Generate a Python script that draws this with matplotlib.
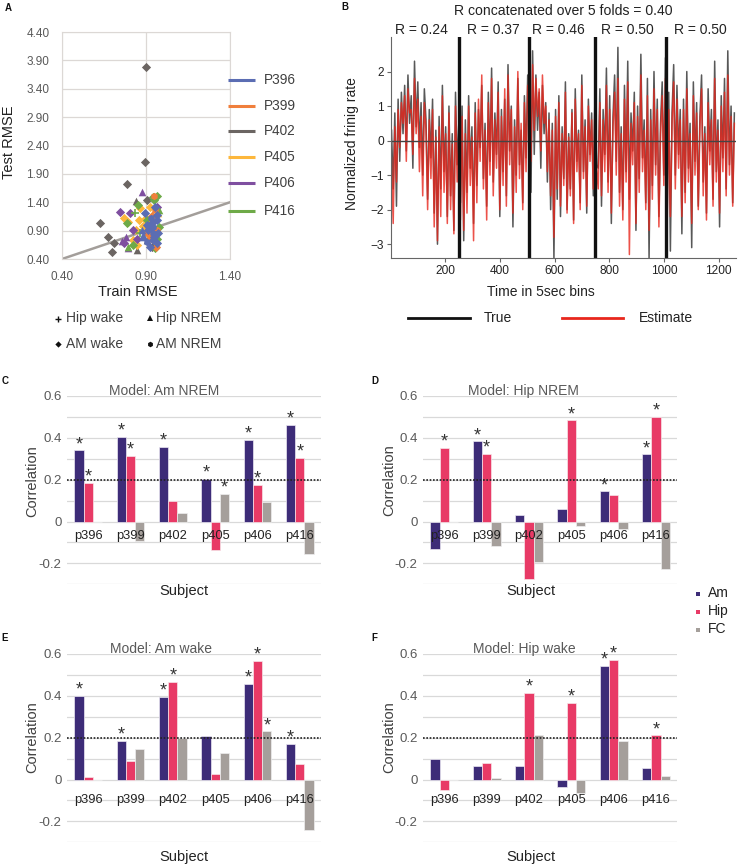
import numpy as np
import matplotlib
matplotlib.use("Agg")
import matplotlib.pyplot as plt

plt.rcParams['font.family'] = ['Liberation Sans', 'DejaVu Sans']

# ---------------- data ----------------
# Panel A: train/test RMSE per subject; cond codes: '+' Hip wake, '^' Hip NREM, 'D' AM wake, 'h' AM NREM
P396_TRAIN = [0.894, 0.914, 0.944, 0.963, 0.884, 0.924, 0.954, 0.904, 0.963, 0.934, 0.944, 0.874, 0.973, 0.904, 0.930, 0.950, 0.880, 0.965, 0.920, 0.940]
P396_TEST = [1.21, 0.91, 0.85, 1.09, 0.79, 0.62, 1.32, 0.70, 0.68, 1.03, 0.97, 0.91, 0.85, 1.00, 1.12, 0.78, 0.82, 1.18, 0.95, 0.74]
P396_COND = "DDhD^DDhDDh^DDhD^DhD"
P399_TRAIN = [0.948, 0.954, 0.934, 0.914, 0.963, 0.924, 0.944, 0.934, 0.904, 0.960]
P399_TEST = [1.51, 1.26, 1.06, 0.97, 0.91, 0.79, 0.74, 1.15, 0.85, 0.62]
P399_COND = "hhhhhhhDhD"
P402_TRAIN = [0.898, 0.892, 0.787, 0.626, 0.676, 0.711, 0.696, 0.844, 0.840, 0.906, 0.934, 0.904, 0.914]
P402_TEST = [3.78, 2.11, 1.72, 1.03, 0.78, 0.69, 0.53, 0.55, 1.42, 1.44, 0.62, 0.74, 0.85]
P402_COND = "DDDDDDD^^DD^D"
P405_TRAIN = [0.769, 0.864, 0.860, 0.894, 0.924, 0.840, 0.821, 0.845, 0.904, 0.795, 0.934, 0.973, 0.880]
P405_TEST = [1.12, 1.29, 1.09, 1.10, 1.32, 0.91, 0.74, 0.65, 0.85, 1.06, 1.15, 1.21, 0.98]
P405_COND = "DDDDDDDDDDD^D"
P406_TRAIN = [0.874, 0.745, 0.781, 0.795, 0.769, 0.805, 0.844, 0.825, 0.963, 0.934, 0.760]
P406_TEST = [1.58, 1.23, 0.78, 0.59, 0.69, 1.21, 0.76, 0.91, 1.32, 0.91, 0.72]
P406_COND = "^D^^DDDDDD^"
P416_TRAIN = [0.944, 0.964, 0.835, 0.785, 0.854, 0.980, 0.980, 0.954, 0.964, 0.864, 0.825, 0.795, 0.904, 0.950]
P416_TEST = [1.50, 1.51, 1.21, 1.03, 1.35, 1.26, 0.97, 0.59, 0.76, 0.85, 0.65, 0.62, 1.09, 1.44]
P416_COND = "DD+DD^DDD+D^DD"
SUBJ_NAMES_A = ["P396", "P399", "P402", "P405", "P406", "P416"]
SUBJ_COLORS_A = ["#5b6db3", "#f07f3c", "#6b6562", "#fdb73c", "#7f4fa0", "#6eaa48"]

# Panel B: true and estimated normalised firing rate (sampled every 6 bins)
TRUE_RATE = [
    0.3, -1.4, 0.8, -1.9, 1.2, -0.6, 1.4, 0.2, 1.6, -0.3, 1.9, 0.5, 1.3, -0.8, 2.3, 0.4, 1.7, -0.2, 1.1, -1.0,
    1.5, 0.6, -1.7, 0.9, -0.5, 1.2, -2.1, 0.3, -3.0, 0.7, -1.4, 1.6, -0.9, 0.4, -2.2, 1.0, -1.6, 0.2, -2.6, 1.4, -0.7, 0.5,
    -1.8, 1.0, -2.9, 0.6, -1.5, 1.3, -0.8, 0.4, -2.4, 1.1, -1.3, 0.9, -0.2, 1.6, -1.1, 0.5, -1.9, 1.4, -0.6, 2.1,
    -1.2, 0.8, -0.4, 1.7, -2.2, 0.9, -0.9, 1.2, -1.6, 2.2, -0.3, 1.0, -2.5, 0.6, -1.0, 1.8, -0.7, 0.3, -1.8, 1.3, -0.5, 1.9,
    1.0, -1.5, 2.6, -0.4, 1.9, 0.3, 1.4, -0.8, 1.6, 0.2, 1.1, -1.2, 0.8, -2.0, 0.5, -3.4, 0.9, -1.7, 1.3, -2.2,
    0.4, -1.1, 1.7, -2.0, 0.2, -1.4, 0.9, -2.3, 1.5, -0.6, 0.3, -1.8, 1.9, -0.9, 0.6, -2.1, 1.2, -0.4, 0.8, -1.6, 1.3, -0.7,
    -0.8, 1.5, -1.9, 0.9, -0.4, 2.1, -1.2, 1.3, -2.4, 0.7, 1.9, -0.6, 2.7, -1.5, 0.4, -2.0, 1.6, -0.9, 2.3, -1.7,
    0.8, -0.3, 1.4, -2.6, 1.0, -1.1, 2.5, -0.5, 0.6, -1.8, 1.8, -3.4, 0.9, -1.3, 2.0, -0.7, 1.2, -2.2, 0.5, 1.7, -1.0, 2.4,
    -2.3, 1.4, -3.2, 0.8, 2.2, -1.0, 1.6, -0.4, 0.9, -2.7, 1.2, -1.5, 2.0, -0.8, 0.5, -3.1, 1.7, -0.6, 1.1, -1.9,
    0.7, 1.9, -1.2, 0.4, -2.1, 1.5, -0.3, 0.9, -1.7, 2.3, -0.9, 0.6, -2.5, 1.3, -0.5, 1.8, -1.4, 2.6, -0.7, 1.0, -1.8, 0.8,
]
EST_RATE = [
    -0.5, -2.4, 0.4, -1.2, 0.9, -0.2, 1.1, 0.5, 1.3, -0.6, 1.5, 0.8, 0.9, -0.4, 1.8, 0.2, 1.2, -0.9, 0.7, -1.6,
    1.1, 0.3, -2.0, 0.6, -1.1, 0.9, -2.5, 0.1, -2.9, 0.4, -2.2, 1.3, -1.5, 0.2, -2.4, 0.8, -2.0, -0.1, -2.7, 1.0, -1.2, 0.1,
    -2.3, 0.7, -2.6, 0.2, -2.1, 1.0, -1.3, 0.1, -2.9, 0.8, -1.8, 1.2, -0.6, 1.9, -1.4, 0.3, -2.3, 1.1, -1.0, 1.8,
    -1.6, 0.6, -0.8, 1.4, -2.0, 0.7, -1.3, 1.5, -1.9, 1.9, -0.7, 0.9, -2.1, 0.4, -1.5, 2.0, -1.1, 0.5, -2.0, 1.1, -0.9, 1.6,
    1.2, -0.6, 2.2, 0.3, 1.8, 0.7, 1.5, -0.3, 1.9, 0.5, 1.0, -0.9, 0.6, -1.6, 0.3, -2.8, 0.7, -1.4, 1.1, -1.9,
    0.2, -1.3, 1.4, -2.1, 0.1, -1.6, 0.8, -2.4, 1.2, -0.9, 0.2, -2.0, 1.6, -1.1, 0.4, -1.9, 1.0, -0.6, 0.6, -1.4, 1.1, -0.8,
    -1.4, 1.1, -1.6, 0.6, -0.9, 1.6, -1.5, 0.9, -2.1, 0.4, 1.4, -1.0, 1.8, -1.9, 0.2, -2.3, 1.2, -1.2, 1.7, -3.3,
    0.5, -0.7, 1.1, -2.4, 0.7, -1.5, 1.9, -0.9, 0.3, -2.0, 1.3, -2.6, 0.6, -1.7, 1.5, -1.0, 0.9, -2.5, 0.2, 1.3, -1.3, 1.8,
    -2.6, 0.9, -2.2, 0.5, 1.7, -1.4, 1.2, -0.8, 0.6, -2.2, 0.9, -1.8, 1.5, -1.2, 0.2, -2.4, 1.3, -1.0, 0.8, -2.0,
    0.4, 1.5, -1.6, 0.2, -2.3, 1.1, -0.7, 0.6, -1.9, 1.8, -1.2, 0.3, -2.1, 1.0, -0.9, 1.4, -1.6, 1.9, -1.0, 0.7, -1.9, 0.5,
]
BIN_STEP = 6
FOLD_EDGES = [248, 504, 746, 1006]
FOLD_R_X = [114, 374, 615, 864, 1131]
FOLD_R = ["R = 0.24", "R = 0.37", "R = 0.46", "R = 0.50", "R = 0.50"]

# Panels C-F: correlations per subject
SUBJECTS = ["p396", "p399", "p402", "p405", "p406", "p416"]
C_AM = [0.34, 0.403, 0.357, 0.203, 0.389, 0.463]
C_HIP = [0.183, 0.314, 0.10, -0.138, 0.176, 0.303]
C_FC = [0.0, -0.092, 0.041, 0.13, 0.094, -0.154]
C_STARS = ["AH", "AH", "A", "AF", "AH", "AH"]
D_AM = [-0.129, 0.383, 0.029, 0.06, 0.144, 0.321]
D_HIP = [0.351, 0.325, -0.275, 0.483, 0.125, 0.502]
D_FC = [0.0, -0.119, -0.195, -0.019, -0.037, -0.227]
D_STARS = ["H", "AH", "", "H", "A", "AH"]
E_AM = [0.40, 0.184, 0.394, 0.21, 0.455, 0.171]
E_HIP = [0.01, 0.089, 0.466, 0.026, 0.567, 0.073]
E_FC = [0.0, 0.148, 0.20, 0.128, 0.23, -0.241]
E_STARS = ["A", "A", "AH", "", "AHF", "A"]
F_AM = [0.099, 0.067, 0.067, -0.035, 0.544, 0.054]
F_HIP = [-0.049, 0.081, 0.413, 0.367, 0.57, 0.211]
F_FC = [0.0, 0.005, 0.212, -0.064, 0.182, 0.019]
F_STARS = ["", "", "H", "H", "AH", "H"]
AM_C, HIP_C, FC_C = "#3d2c78", "#e83a66", "#a59f9b"

# ---------------- figure ----------------
W, H = 738, 867
fig = plt.figure(figsize=(W / 100, H / 100), dpi=100)


def fax(x0, y0, x1, y1):
    return fig.add_axes([x0 / W, 1 - y1 / H, (x1 - x0) / W, (y1 - y0) / H])


TXT = "#404040"
GRID = "#d9d9d9"

# ---- Panel A ----
axA = fax(62, 32, 230, 259)
axA.set_xlim(0.4, 1.4)
axA.set_ylim(0.4, 4.4)
axA.set_xticks([0.4, 0.9, 1.4])
axA.set_yticks(np.arange(0.4, 4.41, 0.5))
axA.set_xticklabels(["%.2f" % v for v in [0.4, 0.9, 1.4]])
axA.set_yticklabels(["%.2f" % v for v in np.arange(0.4, 4.41, 0.5)])
axA.grid(True, color="#dcd8d5", lw=0.9)
axA.set_axisbelow(True)
for s in axA.spines.values():
    s.set_color("#dcd8d5")
axA.tick_params(length=0, labelsize=8.5, labelcolor="#595959", pad=9)
axA.plot([0.4, 1.4], [0.4, 1.4], color="#a39e9a", lw=1.8, zorder=2)

subj_data = [(P396_TRAIN, P396_TEST, P396_COND), (P399_TRAIN, P399_TEST, P399_COND),
             (P402_TRAIN, P402_TEST, P402_COND), (P405_TRAIN, P405_TEST, P405_COND),
             (P406_TRAIN, P406_TEST, P406_COND), (P416_TRAIN, P416_TEST, P416_COND)]
order = [2, 3, 4, 5, 1, 0]
msize = {"D": 22, "^": 30, "+": 40, "h": 28}
for idx in order:
    tr, te, cond = subj_data[idx]
    col = SUBJ_COLORS_A[idx]
    tr = np.array(tr)
    te = np.array(te)
    cond = np.array(list(cond))
    for m in ["D", "^", "h", "+"]:
        sel = cond == m
        if sel.any():
            if m == "+":
                axA.scatter(tr[sel], te[sel], marker="+", s=msize[m], c=col, linewidths=1.2, zorder=3)
            else:
                axA.scatter(tr[sel], te[sel], marker=m, s=msize[m], c=col, linewidths=0, zorder=3)

# ---- Panel B ----
axB = fax(391, 37, 736, 258)
tb = 3 + BIN_STEP * np.arange(len(TRUE_RATE))
axB.plot(tb, TRUE_RATE, color="#111111", lw=1.1, alpha=0.7)
axB.plot(tb, EST_RATE, color="#e8271d", lw=1.1, alpha=0.8)
axB.axhline(0, color="#444444", lw=1.0)
for e in FOLD_EDGES:
    axB.axvline(e, color="#111111", lw=2.4)
axB.set_xlim(1, 1263)
axB.set_ylim(-3.4, 3.0)
axB.set_xticks([200, 400, 600, 800, 1000, 1200])
axB.set_yticks([-3, -2, -1, 0, 1, 2])
for s in ["top", "right"]:
    axB.spines[s].set_visible(False)
for s in ["left", "bottom"]:
    axB.spines[s].set_color("#666666")
    axB.spines[s].set_linewidth(0.8)
axB.tick_params(length=3, color="#666666", labelsize=8.6, labelcolor="#222222", pad=2)
for rx, rt in zip(FOLD_R_X, FOLD_R):
    axB.text(rx, 1.0, rt, transform=axB.get_xaxis_transform(), ha="center", va="bottom",
             fontsize=10, color="#222222")


# ---- Panels C-F ----
def bar_panel(rect, am, hip, fc, stars, title, title_x, lab_y):
    ax = fax(*rect)
    x = np.arange(len(SUBJECTS))
    w = 0.22
    ax.set_xlim(-0.5, 5.5)
    ax.set_ylim(-0.3, 0.6)
    for g in np.arange(-0.3, 0.61, 0.1):
        ax.axhline(g, color=GRID, lw=0.9, zorder=0)
    ax.axhline(0.2, color="#222222", lw=1.2, ls=(0, (1, 1)), zorder=4, clip_on=False)
    ax.bar(x - w, am, w, color=AM_C, edgecolor="#ece8f2", lw=0.5, zorder=2)
    ax.bar(x, hip, w, color=HIP_C, edgecolor="#f7e6ea", lw=0.5, zorder=2)
    ax.bar(x + w, fc, w, color=FC_C, edgecolor="#efefef", lw=0.5, zorder=2)
    for i, st in enumerate(stars):
        for code, off, vals in (("A", -w, am), ("H", 0, hip), ("F", w, fc)):
            if code in st:
                ax.text(i + off, vals[i] + 0.028, "*", ha="center", va="center",
                        fontsize=13, color="#333333", zorder=5)
    for i, s in enumerate(SUBJECTS):
        ax.text(i, lab_y, s, ha="center", va="center", fontsize=9.3, color="#222222", zorder=6)
    ax.text(title_x, 0.622, title, ha="center", va="center", fontsize=10, color="#595959")
    ax.set_xticks([])
    ax.set_yticks([0.6, 0.4, 0.2, 0.0, -0.2])
    ax.set_yticklabels(["0.6", "0.4", "0.2", "0", "-0.2"])
    ax.tick_params(length=0, labelsize=9.5, labelcolor="#595959", pad=4)
    for s in ax.spines.values():
        s.set_visible(False)
    return ax


bar_panel((67, 396, 321, 584.3), C_AM, C_HIP, C_FC, C_STARS, "Model: Am NREM", 1.79, -0.068)
bar_panel((423.3, 396, 677, 584.3), D_AM, D_HIP, D_FC, D_STARS, "Model: Hip NREM", 1.86, -0.07)
bar_panel((67, 654, 321, 842.3), E_AM, E_HIP, E_FC, E_STARS, "Model: Am wake", 1.72, -0.10)
bar_panel((423.3, 654, 677, 842.3), F_AM, F_HIP, F_FC, F_STARS, "Model: Hip wake", 1.90, -0.098)

# ---- overlay for labels and legends (pixel coordinates) ----
ov = fig.add_axes([0, 0, 1, 1], zorder=10)
ov.set_xlim(0, W)
ov.set_ylim(H, 0)
ov.axis("off")
ov.patch.set_alpha(0)

# panel letters
for lt, px, py in [("A", 8, 8), ("B", 345, 7), ("C", 5, 381), ("D", 375, 381), ("E", 5, 638), ("F", 374, 638)]:
    ov.text(px, py, lt, fontsize=7, fontweight="bold", ha="center", va="center", color="#111111")

# Panel A labels
ov.text(9, 142, "Test RMSE", rotation=90, ha="center", va="center", fontsize=10.5, color="#222222")
ov.text(138, 292, "Train RMSE", ha="center", va="center", fontsize=10.5, color="#222222")
legA_y = [80, 106, 131, 157, 183, 211]
for name, col, yy in zip(SUBJ_NAMES_A, SUBJ_COLORS_A, legA_y):
    ov.plot([228, 255], [yy, yy], color=col, lw=2.2, solid_capstyle="butt")
    ov.text(264, yy, name, ha="left", va="center", fontsize=9.8, color=TXT)
ov.plot([58], [319], marker="+", color="#111111", ms=5, mew=1.0)
ov.text(66, 318, "Hip wake", ha="left", va="center", fontsize=10, color=TXT)
ov.plot([150], [318], marker="^", color="#111111", ms=4, mew=0)
ov.text(156, 318, "Hip NREM", ha="left", va="center", fontsize=10, color=TXT)
ov.plot([58], [344], marker="D", color="#111111", ms=3.2, mew=0)
ov.text(66, 344, "AM wake", ha="left", va="center", fontsize=10, color=TXT)
ov.plot([150], [344], marker="h", color="#111111", ms=4, mew=0)
ov.text(156, 344, "AM NREM", ha="left", va="center", fontsize=10, color=TXT)

# Panel B labels
ov.text(563, 11, "R concatenated over 5 folds = 0.40", ha="center", va="center", fontsize=10.1, color="#222222")
ov.text(352, 144, "Normalized frinig rate", rotation=90, ha="center", va="center", fontsize=10, color="#222222")
ov.text(541, 292, "Time in 5sec bins", ha="center", va="center", fontsize=10, color="#222222")
ov.plot([408, 470], [318, 318], color="#111111", lw=2)
ov.text(484, 318, "True", ha="left", va="center", fontsize=10, color="#222222")
ov.plot([562, 623], [318, 318], color="#e8271d", lw=2)
ov.text(639, 318, "Estimate", ha="left", va="center", fontsize=10, color="#222222")

# bar panel axis labels
for cx, cy in [(32, 481), (389, 480), (32, 737), (389, 737)]:
    ov.text(cx, cy, "Correlation", rotation=90, ha="center", va="center", fontsize=10.5, color="#404040")
for cx, cy in [(184, 591), (531, 591), (184, 857), (531, 857)]:
    ov.text(cx, cy, "Subject", ha="center", va="center", fontsize=10.5, color="#222222")

# bar legend
for lab, col, yy in [("Am", AM_C, 593), ("Hip", HIP_C, 611), ("FC", FC_C, 629)]:
    ov.plot([698], [yy + 1], marker="s", color=col, ms=3.3, mew=0)
    ov.text(708, yy, lab, ha="left", va="center", fontsize=10, color="#222222")

fig.savefig("out.png", dpi=100)
